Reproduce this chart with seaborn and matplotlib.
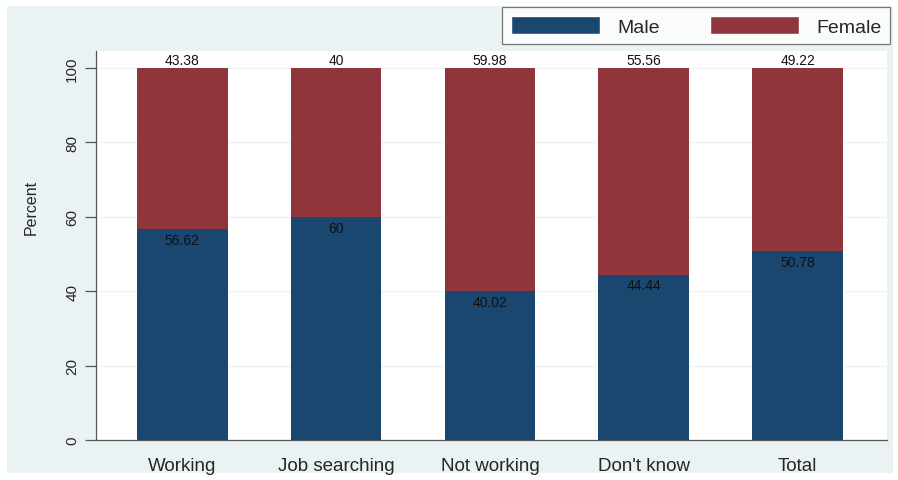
import matplotlib
matplotlib.use("Agg")
import matplotlib.pyplot as plt
from matplotlib.patches import Patch, Rectangle
import pandas as pd
import seaborn as sns

categories = ["Working", "Job searching", "Not working", "Don't know", "Total"]
male = [56.62, 60, 40.02, 44.44, 50.78]
female = [43.38, 40, 59.98, 55.56, 49.22]
male_lbl = ["56.62", "60", "40.02", "44.44", "50.78"]
female_lbl = ["43.38", "40", "59.98", "55.56", "49.22"]

NAVY = "#1a476f"
MAROON = "#90353b"
BG = "#eaf2f3"

sns.set_theme(style="white")
plt.rcParams["font.family"] = ["Liberation Sans", "DejaVu Sans"]

df = pd.DataFrame({"cat": categories, "male": male, "female": female})
df["stack"] = df["male"] + df["female"]

fig = plt.figure(figsize=(8.98, 4.81), dpi=100, facecolor="white")
fig.patches.append(Rectangle((7 / 898, 7 / 481), 886 / 898, 467 / 481,
                             transform=fig.transFigure, facecolor=BG,
                             edgecolor="none", zorder=-10))
ax = fig.add_axes([96 / 898, 1 - 441 / 481, (887 - 96) / 898, (441 - 52) / 481])
ax.set_facecolor("white")

sns.barplot(data=df, x="cat", y="stack", color=MAROON, width=0.59,
            saturation=1, linewidth=0, ax=ax, zorder=2)
sns.barplot(data=df, x="cat", y="male", color=NAVY, width=0.59,
            saturation=1, linewidth=0, ax=ax, zorder=3)

for i in range(len(categories)):
    ax.text(i, male[i] - 1.0, male_lbl[i], ha="center", va="top",
            fontsize=10, color="#111111", zorder=4)
    ax.text(i, male[i] + female[i] + 0.4, female_lbl[i], ha="center",
            va="bottom", fontsize=10, color="#111111", zorder=4)

ax.set_xlim(-0.56, 4.58)
ax.set_ylim(0, 104.6)
ax.set_yticks([0, 20, 40, 60, 80, 100])
ax.set_yticklabels(["0", "20", "40", "60", "80", "100"], rotation=90,
                   va="center", fontsize=11)
ax.set_xticks(range(len(categories)))
ax.set_xticklabels(categories, fontsize=13.5)
ax.set_xlabel("")
ax.set_ylabel("Percent", fontsize=11.5)
ax.yaxis.set_label_coords(-0.072, 0.6)

ax.yaxis.grid(True, color="#eef3f4", lw=1, zorder=0)
ax.set_axisbelow(True)
for s in ["top", "right"]:
    ax.spines[s].set_visible(False)
for s in ["left", "bottom"]:
    ax.spines[s].set_color("#555555")
    ax.spines[s].set_linewidth(0.9)
ax.tick_params(axis="y", left=True, length=8, width=0.9, color="#555555", pad=4)
ax.tick_params(axis="x", bottom=False, pad=6)

handles = [Patch(facecolor=NAVY, label="Male"), Patch(facecolor=MAROON, label="Female")]
leg = fig.legend(handles=handles, loc="upper right", ncol=2,
                 bbox_to_anchor=(890 / 898, 1 - 8 / 481), fontsize=14,
                 frameon=True, fancybox=False, edgecolor="#555555",
                 handlelength=4.6, handleheight=1.1, columnspacing=2.6,
                 borderpad=0.45, handletextpad=0.85, borderaxespad=0)
leg.get_frame().set_linewidth(0.9)

fig.savefig("out.png", dpi=100, facecolor="white")
